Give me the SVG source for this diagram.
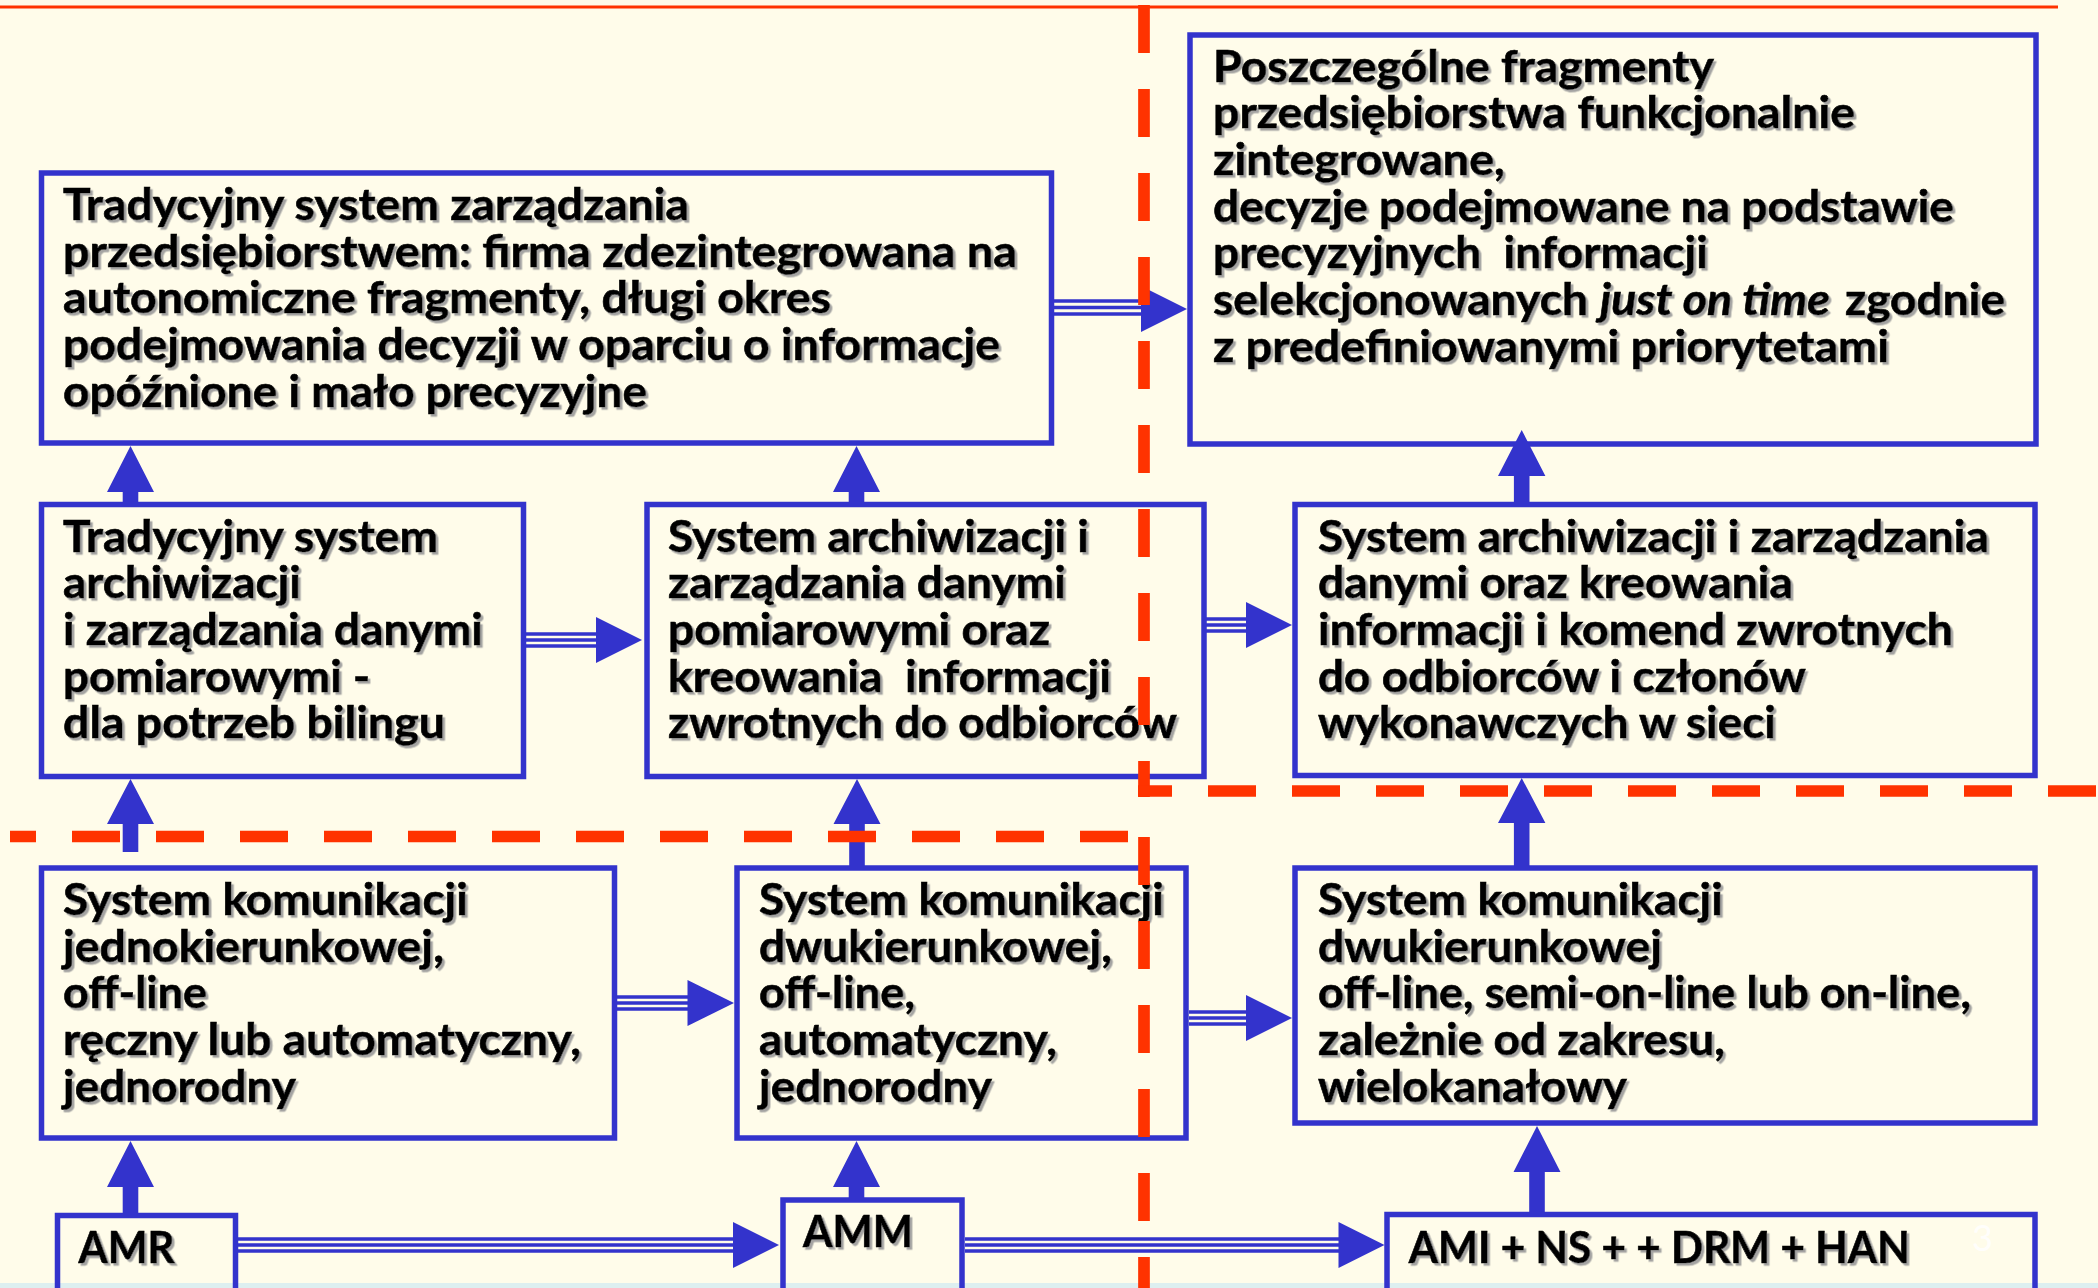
<svg xmlns="http://www.w3.org/2000/svg" width="2098" height="1288" viewBox="0 0 2098 1288">
<defs>
<filter id="sh" x="-5%" y="-20%" width="110%" height="140%">
<feDropShadow dx="2.5" dy="2.5" stdDeviation="0.6" flood-color="#9a9a9a" flood-opacity="0.9"/>
</filter>
</defs>
<style>
.bx{fill:none;stroke:#3333CC;stroke-width:5.5}
.t{font-family:Lato,"Open Sans","Liberation Sans",sans-serif;font-weight:700;font-size:43px;fill:#000;stroke:#000;stroke-width:0.6;white-space:pre}
.it{font-style:italic}
.ar{fill:#3333CC}
.bd{stroke:#3333CC;stroke-width:3.5;fill:none}
.rd{fill:none;stroke:#FF3300;stroke-width:11.7;stroke-dasharray:48 36}
</style>
<rect x="0" y="0" width="2098" height="1288" fill="#FFFCEA"/>
<rect x="0" y="1283" width="2098" height="5" fill="#DDEFF0"/>

<g id="box-tradycyjny-zarzadzanie">
<rect class="bx" x="41.5" y="173" width="1010" height="270"/>
<g filter="url(#sh)">
<text class="t" x="63" y="220" textLength="626" lengthAdjust="spacingAndGlyphs">Tradycyjny system zarządzania</text>
<text class="t" x="63" y="266.7" textLength="954" lengthAdjust="spacingAndGlyphs">przedsiębiorstwem: firma zdezintegrowana na</text>
<text class="t" x="63" y="313.3" textLength="768" lengthAdjust="spacingAndGlyphs">autonomiczne fragmenty, długi okres</text>
<text class="t" x="63" y="360" textLength="937" lengthAdjust="spacingAndGlyphs">podejmowania decyzji w oparciu o informacje</text>
<text class="t" x="63" y="406.7" textLength="584" lengthAdjust="spacingAndGlyphs">opóźnione i mało precyzyjne</text>
</g>
</g>

<g id="box-zintegrowane">
<rect class="bx" x="1190" y="35" width="846" height="409"/>
<g filter="url(#sh)">
<text class="t" x="1213" y="81.7" textLength="501" lengthAdjust="spacingAndGlyphs">Poszczególne fragmenty</text>
<text class="t" x="1213" y="128.3" textLength="642" lengthAdjust="spacingAndGlyphs">przedsiębiorstwa funkcjonalnie</text>
<text class="t" x="1213" y="175" textLength="292" lengthAdjust="spacingAndGlyphs">zintegrowane,</text>
<text class="t" x="1213" y="221.7" textLength="741" lengthAdjust="spacingAndGlyphs">decyzje podejmowane na podstawie</text>
<text class="t" x="1213" y="268.3" textLength="495" lengthAdjust="spacingAndGlyphs">precyzyjnych  informacji</text>
<text class="t" x="1213" y="315" textLength="375" lengthAdjust="spacingAndGlyphs">selekcjonowanych</text>
<text class="t it" x="1600" y="315" textLength="230" lengthAdjust="spacingAndGlyphs">just on time</text>
<text class="t" x="1845" y="315" textLength="160" lengthAdjust="spacingAndGlyphs">zgodnie</text>
<text class="t" x="1213" y="361.7" textLength="676" lengthAdjust="spacingAndGlyphs">z predefiniowanymi priorytetami</text>
</g>
</g>

<g id="box-tradycyjny-archiwizacja">
<rect class="bx" x="41.5" y="504.5" width="482" height="272"/>
<g filter="url(#sh)">
<text class="t" x="63" y="551.7" textLength="375" lengthAdjust="spacingAndGlyphs">Tradycyjny system</text>
<text class="t" x="63" y="598.3" textLength="238" lengthAdjust="spacingAndGlyphs">archiwizacji</text>
<text class="t" x="63" y="645" textLength="420" lengthAdjust="spacingAndGlyphs">i zarządzania danymi</text>
<text class="t" x="63" y="691.7" textLength="307" lengthAdjust="spacingAndGlyphs">pomiarowymi -</text>
<text class="t" x="63" y="738.3" textLength="382" lengthAdjust="spacingAndGlyphs">dla potrzeb bilingu</text>
</g>
</g>

<g id="box-archiwizacja-odbiorcy">
<rect class="bx" x="647" y="504.5" width="557" height="272"/>
<g filter="url(#sh)">
<text class="t" x="668" y="551.7" textLength="421" lengthAdjust="spacingAndGlyphs">System archiwizacji i</text>
<text class="t" x="668" y="598.3" textLength="398" lengthAdjust="spacingAndGlyphs">zarządzania danymi</text>
<text class="t" x="668" y="645" textLength="382" lengthAdjust="spacingAndGlyphs">pomiarowymi oraz</text>
<text class="t" x="668" y="691.7" textLength="443" lengthAdjust="spacingAndGlyphs">kreowania  informacji</text>
<text class="t" x="668" y="738.3" textLength="509" lengthAdjust="spacingAndGlyphs">zwrotnych do odbiorców</text>
</g>
</g>

<g id="box-archiwizacja-komendy">
<rect class="bx" x="1295" y="504.5" width="740" height="271"/>
<g filter="url(#sh)">
<text class="t" x="1318" y="551.7" textLength="671" lengthAdjust="spacingAndGlyphs">System archiwizacji i zarządzania</text>
<text class="t" x="1318" y="598.3" textLength="475" lengthAdjust="spacingAndGlyphs">danymi oraz kreowania</text>
<text class="t" x="1318" y="645" textLength="635" lengthAdjust="spacingAndGlyphs">informacji i komend zwrotnych</text>
<text class="t" x="1318" y="691.7" textLength="488" lengthAdjust="spacingAndGlyphs">do odbiorców i członów</text>
<text class="t" x="1318" y="738.3" textLength="458" lengthAdjust="spacingAndGlyphs">wykonawczych w sieci</text>
</g>
</g>

<g id="box-komunikacja-jednokierunkowa">
<rect class="bx" x="41.5" y="868" width="573" height="270"/>
<g filter="url(#sh)">
<text class="t" x="63" y="915" textLength="405" lengthAdjust="spacingAndGlyphs">System komunikacji</text>
<text class="t" x="63" y="961.7" textLength="381" lengthAdjust="spacingAndGlyphs">jednokierunkowej,</text>
<text class="t" x="63" y="1008.3" textLength="144" lengthAdjust="spacingAndGlyphs">off-line</text>
<text class="t" x="63" y="1055" textLength="518" lengthAdjust="spacingAndGlyphs">ręczny lub automatyczny,</text>
<text class="t" x="63" y="1101.7" textLength="233" lengthAdjust="spacingAndGlyphs">jednorodny</text>
</g>
</g>

<g id="box-komunikacja-dwukierunkowa">
<rect class="bx" x="737" y="868" width="449" height="270"/>
<g filter="url(#sh)">
<text class="t" x="759" y="915" textLength="405" lengthAdjust="spacingAndGlyphs">System komunikacji</text>
<text class="t" x="759" y="961.7" textLength="353" lengthAdjust="spacingAndGlyphs">dwukierunkowej,</text>
<text class="t" x="759" y="1008.3" textLength="156" lengthAdjust="spacingAndGlyphs">off-line,</text>
<text class="t" x="759" y="1055" textLength="298" lengthAdjust="spacingAndGlyphs">automatyczny,</text>
<text class="t" x="759" y="1101.7" textLength="233" lengthAdjust="spacingAndGlyphs">jednorodny</text>
</g>
</g>

<g id="box-komunikacja-wielokanalowa">
<rect class="bx" x="1295" y="868" width="740" height="255"/>
<g filter="url(#sh)">
<text class="t" x="1318" y="915" textLength="405" lengthAdjust="spacingAndGlyphs">System komunikacji</text>
<text class="t" x="1318" y="961.7" textLength="344" lengthAdjust="spacingAndGlyphs">dwukierunkowej</text>
<text class="t" x="1318" y="1008.3" textLength="653" lengthAdjust="spacingAndGlyphs">off-line, semi-on-line lub on-line,</text>
<text class="t" x="1318" y="1055" textLength="407" lengthAdjust="spacingAndGlyphs">zależnie od zakresu,</text>
<text class="t" x="1318" y="1101.7" textLength="309" lengthAdjust="spacingAndGlyphs">wielokanałowy</text>
</g>
</g>

<g id="box-amr">
<rect class="bx" x="57.5" y="1215.5" width="178" height="100"/>
<text class="t" x="78.6" y="1263.3" textLength="96" lengthAdjust="spacingAndGlyphs" filter="url(#sh)">AMR</text>
</g>

<g id="box-amm">
<rect class="bx" x="783" y="1200" width="179" height="120"/>
<text class="t" x="803" y="1247.3" textLength="110" lengthAdjust="spacingAndGlyphs" filter="url(#sh)">AMM</text>
</g>

<g id="box-ami">
<rect class="bx" x="1387" y="1214.5" width="648" height="100"/>
<text class="t" x="1408.7" y="1263.3" textLength="501" lengthAdjust="spacingAndGlyphs" filter="url(#sh)">AMI + NS + + DRM + HAN</text>
<text x="1972" y="1251" font-family="Lato,'Liberation Sans',sans-serif" font-size="36" fill="#FFFFFF" fill-opacity="0.85">3</text>
</g>

<g id="connectors">
<g class="bd">
<path d="M1054 301H1143M1054 307.5H1143M1054 314H1143"/>
<path d="M526 634H598M526 640H598M526 646H598"/>
<path d="M1206 619H1248M1206 625H1248M1206 631H1248"/>
<path d="M617 997H689M617 1003H689M617 1009H689"/>
<path d="M1189 1012H1248M1189 1018H1248M1189 1024H1248"/>
<path d="M238 1239H735M238 1245H735M238 1251H735"/>
<path d="M965 1239H1340M965 1245H1340M965 1251H1340"/>
</g>
<g class="ar">
<polygon points="1141,286 1187,309 1141,332"/>
<polygon points="596,617 642,640 596,663"/>
<polygon points="1246,602 1292,625 1246,648"/>
<polygon points="687.5,980 734,1003 687.5,1026"/>
<polygon points="1246,995 1292,1018 1246,1041"/>
<polygon points="733,1222 779,1245 733,1268"/>
<polygon points="1338.5,1222 1384.5,1245 1338.5,1268"/>
<path d="M107 492L130.5 446L154 492H138.3V502H122.7V492Z"/>
<path d="M833 492L856.5 446L880 492H864.3V502H848.7V492Z"/>
<path d="M1498 476L1521.7 430L1545.4 476H1529.5V502H1513.9V476Z"/>
<path d="M107 824L130.5 779L154 824H138.3V852H122.7V824Z"/>
<path d="M833.5 824L857 779L880.5 824H864.8V866H849.2V824Z"/>
<path d="M1498 823L1521.7 778L1545.4 823H1529.5V866H1513.9V823Z"/>
<path d="M107 1187L130.5 1141L154 1187H138.3V1214H122.7V1187Z"/>
<path d="M833 1187L856.5 1141L880 1187H864.3V1198H848.7V1187Z"/>
<path d="M1513.5 1172L1537 1126L1560.5 1172H1544.8V1213H1529.2V1172Z"/>
</g>
</g>

<g id="separators">
<line x1="0" y1="7" x2="2058" y2="7" stroke="#FF3300" stroke-width="3"/>
<path class="rd" d="M1144 5V797"/>
<path class="rd" d="M1138 791H2098" stroke-dashoffset="14"/>
<path class="rd" d="M1144 837V1288"/>
<path class="rd" d="M10 836.5H1130" stroke-dashoffset="22"/>
</g>
</svg>
